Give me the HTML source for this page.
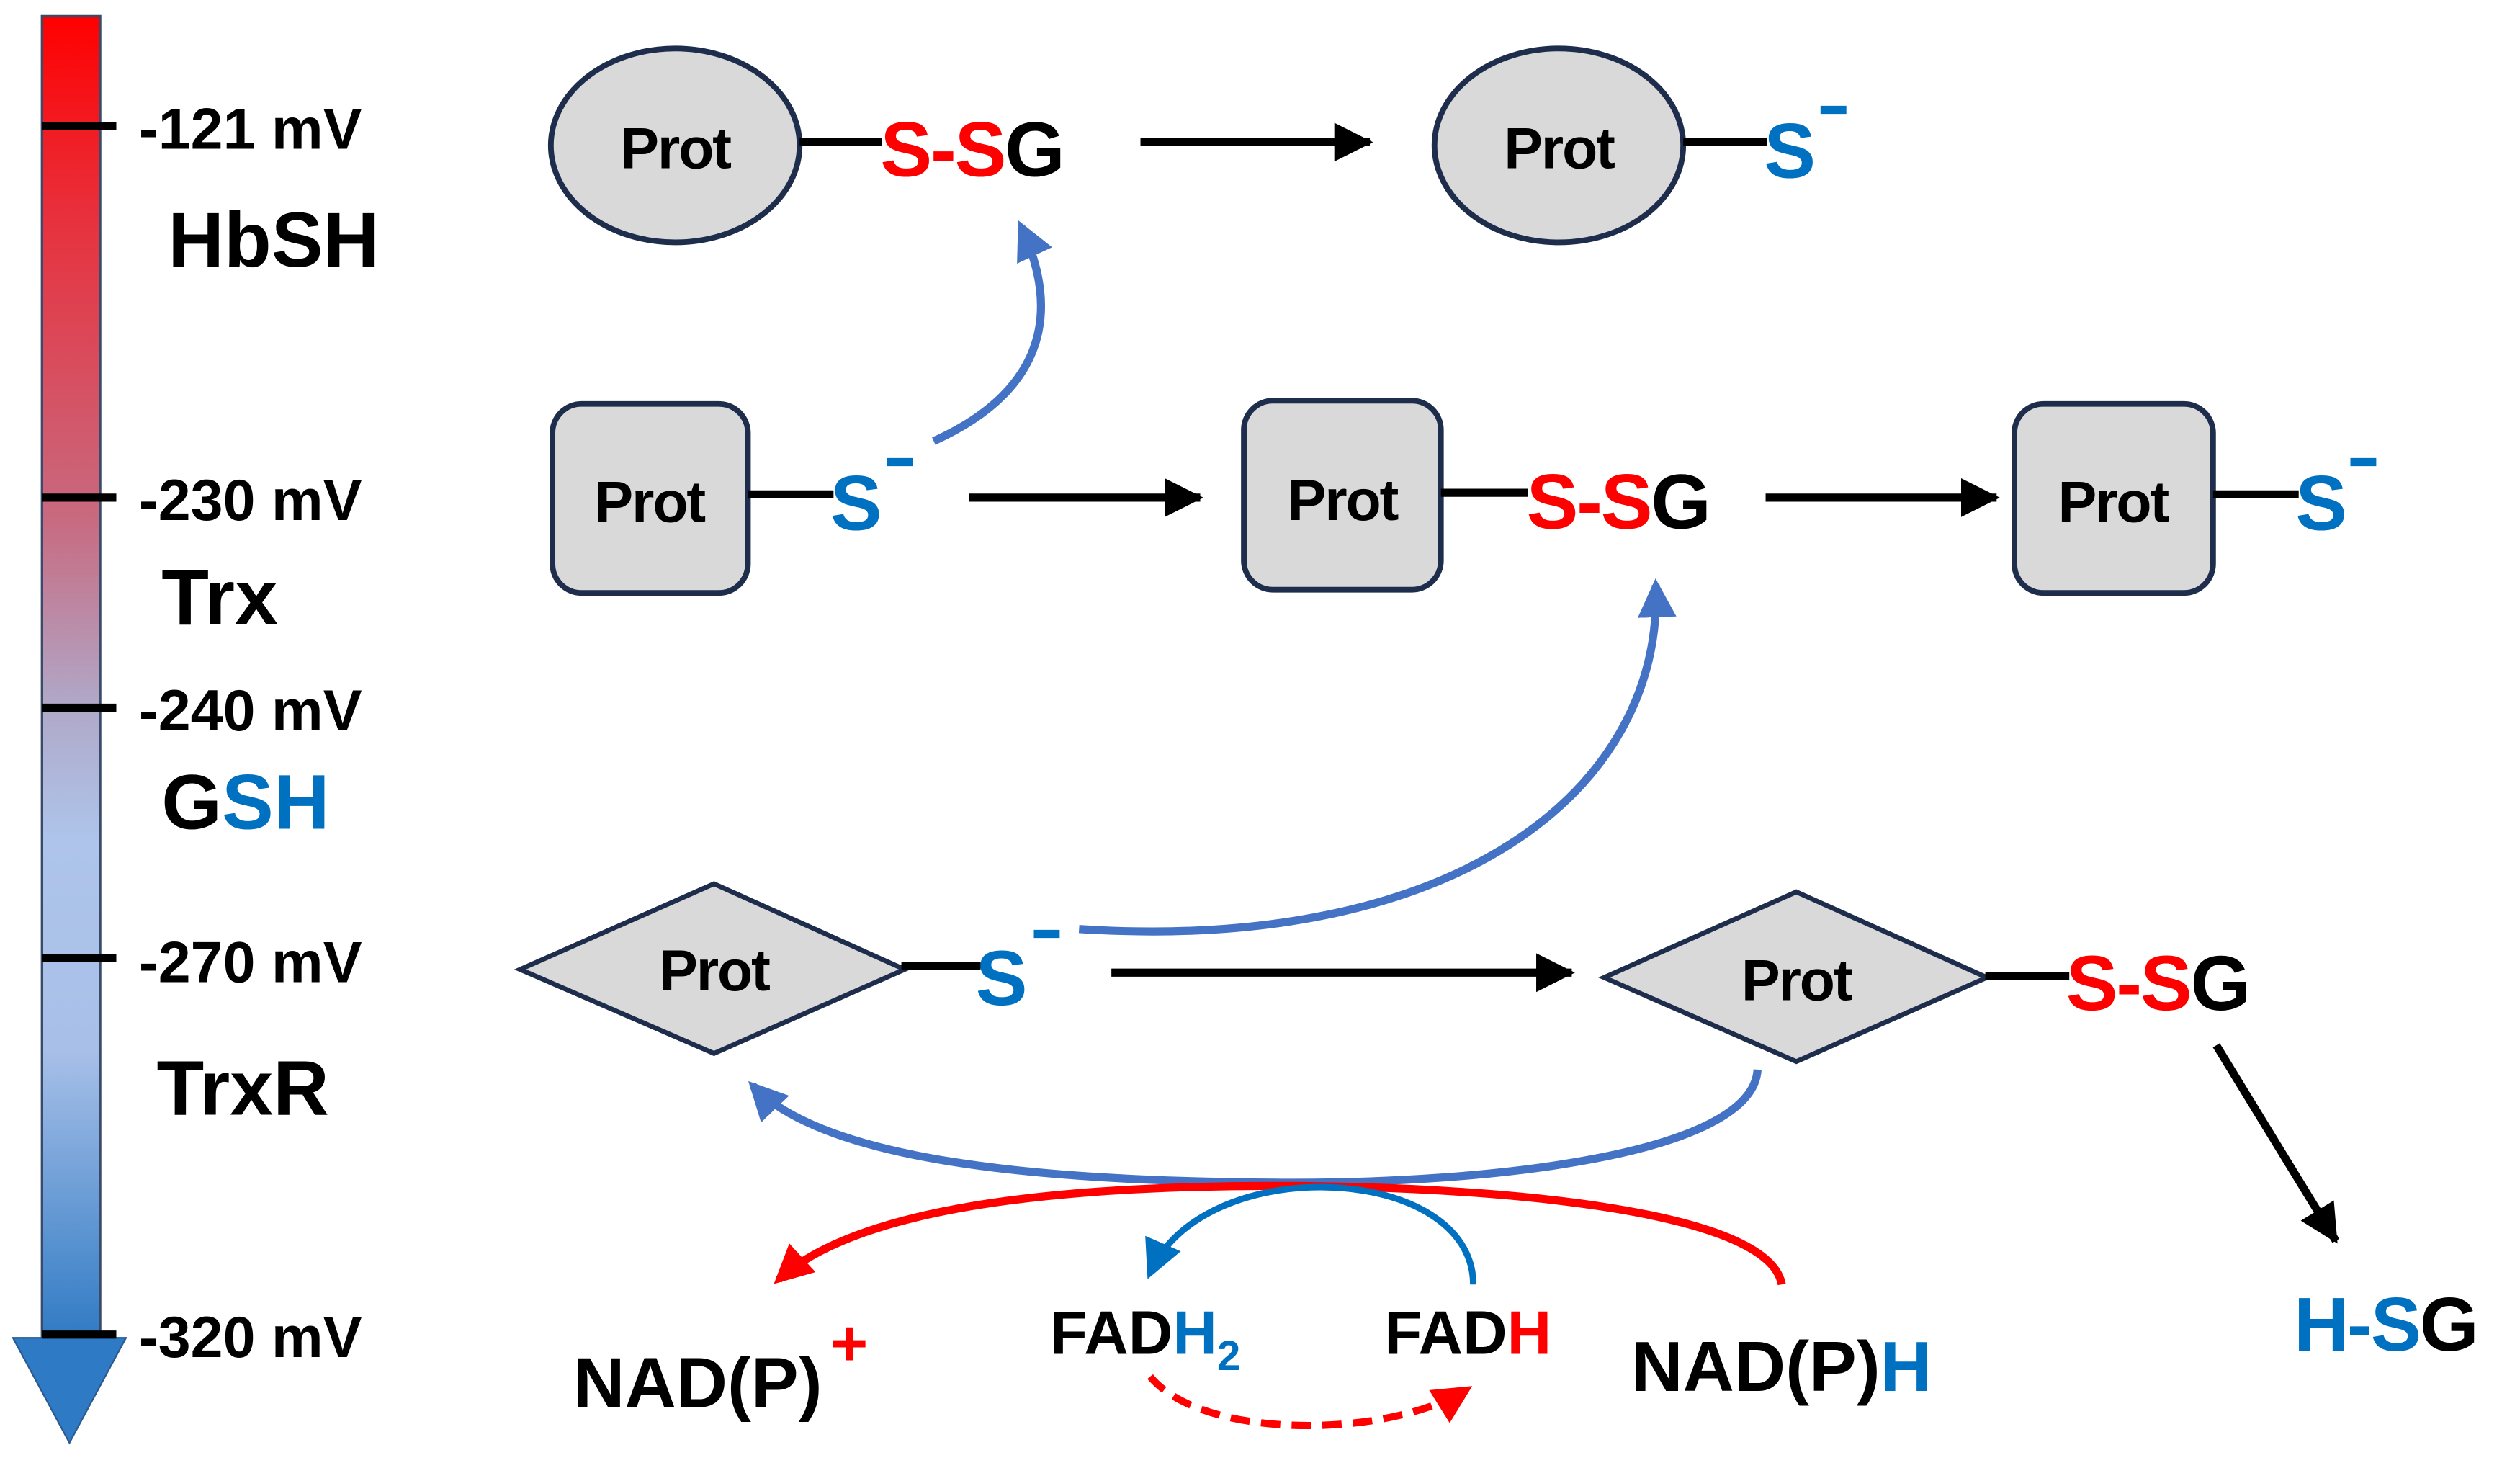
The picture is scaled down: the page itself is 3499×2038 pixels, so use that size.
<!DOCTYPE html>
<html><head><meta charset="utf-8"><style>
html,body{margin:0;padding:0;background:#fff;}
svg{display:block;}
text{font-family:"Liberation Sans",sans-serif;font-weight:bold;}
</style></head><body>
<svg width="3499" height="2038" viewBox="0 0 1560 908.6" preserveAspectRatio="none" xmlns="http://www.w3.org/2000/svg">
<defs>
<linearGradient id="bar" x1="0" y1="0" x2="0" y2="1">
<stop offset="0" stop-color="#ff0000"/>
<stop offset="0.15" stop-color="#e8303c"/>
<stop offset="0.38" stop-color="#c86a80"/>
<stop offset="0.52" stop-color="#b0a8c8"/>
<stop offset="0.62" stop-color="#aec4ea"/>
<stop offset="0.78" stop-color="#a8c0e8"/>
<stop offset="1" stop-color="#2f7ac4"/>
</linearGradient>
<marker id="ak" markerUnits="userSpaceOnUse" markerWidth="30" markerHeight="30" refX="22" refY="12" orient="auto"><path d="M0,0 L24,12 L0,24 Z" fill="#000"/></marker>
<marker id="ab" markerUnits="userSpaceOnUse" markerWidth="30" markerHeight="30" refX="20" refY="12" orient="auto"><path d="M0,0 L24,12 L0,24 Z" fill="#4472c4"/></marker>
<marker id="ab2" markerUnits="userSpaceOnUse" markerWidth="30" markerHeight="30" refX="20" refY="12" orient="auto"><path d="M0,0 L24,12 L0,24 Z" fill="#0070c0"/></marker>
<marker id="ar" markerUnits="userSpaceOnUse" markerWidth="30" markerHeight="30" refX="20" refY="12" orient="auto"><path d="M0,0 L24,12 L0,24 Z" fill="#ff0000"/></marker>
</defs>

<rect x="26" y="10" width="36" height="820" fill="url(#bar)" stroke="#3a4a6a" stroke-width="1.5"/>
<polygon points="8,828 78,828 43,893" fill="#2f7ac4" stroke="#2a5a90" stroke-width="1"/>
<g stroke="#000" stroke-width="5">
<line x1="26" y1="78" x2="72" y2="78"/>
<line x1="26" y1="308" x2="72" y2="308"/>
<line x1="26" y1="438" x2="72" y2="438"/>
<line x1="26" y1="593" x2="72" y2="593"/>
<line x1="26" y1="826" x2="72" y2="826"/>
</g>
<g font-size="36" fill="#000">
<text x="86" y="92">-121 mV</text>
<text x="86" y="322">-230 mV</text>
<text x="86" y="452">-240 mV</text>
<text x="86" y="608">-270 mV</text>
<text x="86" y="840">-320 mV</text>
</g>
<g font-size="48" fill="#000">
<text x="104" y="165">HbSH</text>
<text x="100" y="386">Trx</text>
<text x="100" y="513">G<tspan fill="#0070c0">SH</tspan></text>
<text x="97" y="690">TrxR</text>
</g>

<ellipse cx="418" cy="90" rx="77" ry="60" fill="#d9d9d9" stroke="#1f2d4d" stroke-width="3.5"/>
<text x="418" y="104" font-size="36" text-anchor="middle" letter-spacing="-1">Prot</text>
<line x1="495" y1="88" x2="546" y2="88" stroke="#000" stroke-width="5"/>
<text x="545" y="109" font-size="48" letter-spacing="-1"><tspan fill="#ff0000">S-S</tspan>G</text>
<line x1="706" y1="88" x2="848" y2="88" stroke="#000" stroke-width="5" marker-end="url(#ak)"/>
<ellipse cx="965" cy="90" rx="77" ry="60" fill="#d9d9d9" stroke="#1f2d4d" stroke-width="3.5"/>
<text x="965" y="104" font-size="36" text-anchor="middle" letter-spacing="-1">Prot</text>
<line x1="1042" y1="88" x2="1094" y2="88" stroke="#000" stroke-width="5"/>
<text x="1092" y="110" font-size="48" fill="#0070c0">S</text>
<line x1="1127" y1="68" x2="1143" y2="68" stroke="#0070c0" stroke-width="5"/>

<rect x="342" y="250" width="121" height="117" rx="18" fill="#d9d9d9" stroke="#1f2d4d" stroke-width="3.5"/>
<text x="402" y="323" font-size="36" text-anchor="middle" letter-spacing="-1">Prot</text>
<line x1="463" y1="306" x2="516" y2="306" stroke="#000" stroke-width="5"/>
<text x="514" y="328" font-size="48" fill="#0070c0">S</text>
<line x1="549" y1="286" x2="565" y2="286" stroke="#0070c0" stroke-width="5"/>
<line x1="600" y1="308" x2="743" y2="308" stroke="#000" stroke-width="5" marker-end="url(#ak)"/>
<rect x="770" y="248" width="122" height="117" rx="18" fill="#d9d9d9" stroke="#1f2d4d" stroke-width="3.5"/>
<text x="831" y="322" font-size="36" text-anchor="middle" letter-spacing="-1">Prot</text>
<line x1="892" y1="305" x2="946" y2="305" stroke="#000" stroke-width="5"/>
<text x="945" y="327" font-size="48" letter-spacing="-1"><tspan fill="#ff0000">S-S</tspan>G</text>
<line x1="1093" y1="308" x2="1236" y2="308" stroke="#000" stroke-width="5" marker-end="url(#ak)"/>
<rect x="1247" y="250" width="123" height="117" rx="18" fill="#d9d9d9" stroke="#1f2d4d" stroke-width="3.5"/>
<text x="1308" y="323" font-size="36" text-anchor="middle" letter-spacing="-1">Prot</text>
<line x1="1370" y1="306" x2="1423" y2="306" stroke="#000" stroke-width="5"/>
<text x="1421" y="328" font-size="48" fill="#0070c0">S</text>
<line x1="1455" y1="286" x2="1471" y2="286" stroke="#0070c0" stroke-width="5"/>

<polygon points="322,600 442,547 560,600 442,652" fill="#d9d9d9" stroke="#1f2d4d" stroke-width="3"/>
<text x="442" y="613" font-size="36" text-anchor="middle" letter-spacing="-1">Prot</text>
<line x1="558" y1="598" x2="607" y2="598" stroke="#000" stroke-width="5"/>
<text x="604" y="622" font-size="48" fill="#0070c0">S</text>
<line x1="640" y1="578" x2="656" y2="578" stroke="#0070c0" stroke-width="5"/>
<line x1="688" y1="602" x2="973" y2="602" stroke="#000" stroke-width="5" marker-end="url(#ak)"/>
<polygon points="993,605 1112,552 1230,605 1112,657" fill="#d9d9d9" stroke="#1f2d4d" stroke-width="3"/>
<text x="1112" y="619" font-size="36" text-anchor="middle" letter-spacing="-1">Prot</text>
<line x1="1229" y1="604" x2="1281" y2="604" stroke="#000" stroke-width="5"/>
<text x="1279" y="625" font-size="48" letter-spacing="-1"><tspan fill="#ff0000">S-S</tspan>G</text>

<line x1="1372" y1="647" x2="1446" y2="768" stroke="#000" stroke-width="5" marker-end="url(#ak)"/>
<text x="1420" y="836" font-size="47" fill="#0070c0" letter-spacing="-1">H-S<tspan fill="#000">G</tspan></text>

<path d="M578,273 C640,245 660,200 632,140" fill="none" stroke="#4472c4" stroke-width="5" marker-end="url(#ab)"/>
<path d="M668,575 C900,590 1030,490 1025,362" fill="none" stroke="#4472c4" stroke-width="5" marker-end="url(#ab)"/>
<path d="M1088,662 C1085,715 920,733 790,732 C640,731 510,718 466,672" fill="none" stroke="#4472c4" stroke-width="5" marker-end="url(#ab)"/>

<path d="M1103,795 C1095,748 920,734 790,734 C650,734 530,748 482,792" fill="none" stroke="#ff0000" stroke-width="5" marker-end="url(#ar)"/>
<path d="M912,795 C912,720 745,712 712,788" fill="none" stroke="#0070c0" stroke-width="4" marker-end="url(#ab2)"/>
<path d="M712,852 C745,892 860,890 908,860" fill="none" stroke="#ff0000" stroke-width="4.5" stroke-dasharray="12,7" marker-end="url(#ar)"/>

<text x="355" y="871" font-size="44">NAD(P)</text>
<text x="514" y="845" font-size="40" fill="#ff0000">+</text>
<text x="650" y="838" font-size="38">FAD<tspan fill="#0070c0">H</tspan><tspan fill="#0070c0" font-size="26" dy="10">2</tspan></text>
<text x="857" y="838" font-size="38">FAD<tspan fill="#ff0000">H</tspan></text>
<text x="1010" y="861" font-size="44">NAD(P)<tspan fill="#0070c0">H</tspan></text>
</svg>
</body></html>
